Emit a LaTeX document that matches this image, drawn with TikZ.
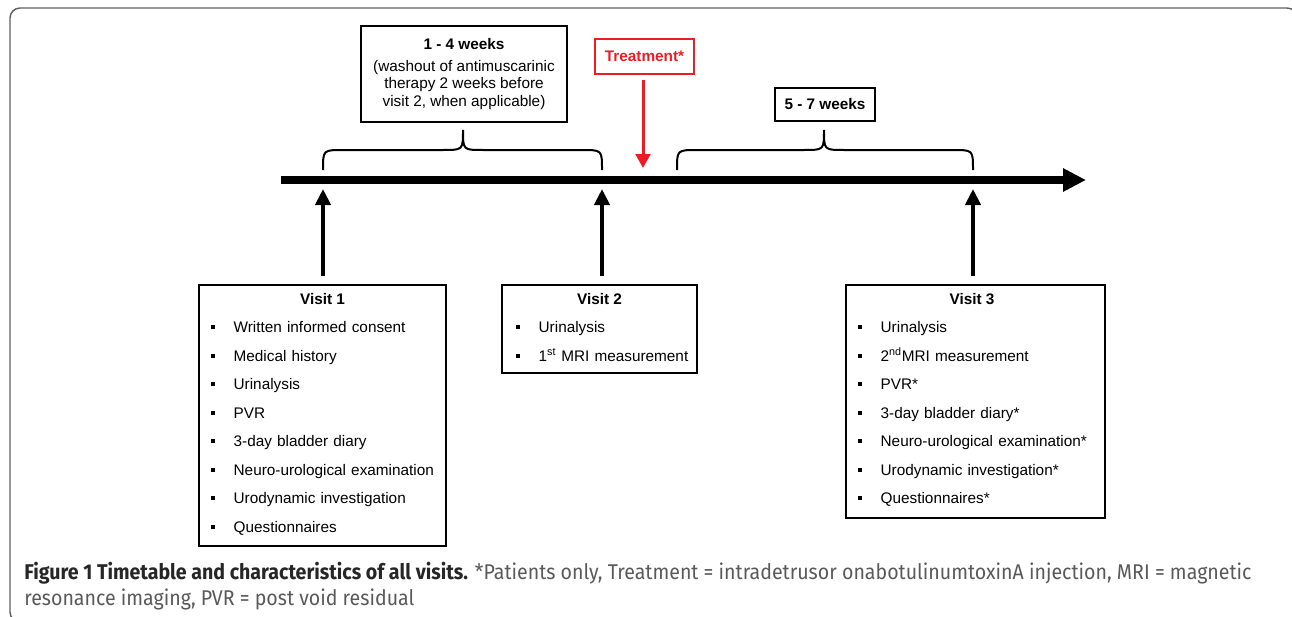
\documentclass[tikz,border=0pt]{standalone}
\usepackage{fontspec}
\setmainfont{Liberation Sans}
\newfontfamily\capfont{Fira Sans}
\usetikzlibrary{arrows.meta,positioning}
\definecolor{treatred}{RGB}{237,28,36}
\definecolor{framegray}{RGB}{95,95,95}
\newcommand{\sqbullet}{\rule[0.22em]{3pt}{3pt}\hspace{14pt}}

\begin{document}
\begin{tikzpicture}[x=0.75pt,y=-0.75pt,node distance=21.4pt,on grid,
  every node/.style={font=\fontsize{11.5}{13.1}\selectfont},
  period/.style={draw,line width=1.5pt,inner sep=0pt,align=center},
  visitbox/.style={draw,line width=1.5pt,inner sep=0pt},
  title/.style={font=\fontsize{11.5}{13.1}\selectfont\bfseries,text height=8.5pt,text depth=2.5pt},
  item/.style={text width=180pt,align=left,inner sep=0pt,text height=8.5pt,text depth=2.5pt},
  visitarrow/.style={line width=3pt,-{Triangle[length=12pt,width=11.25pt]},shorten <=6pt},
  redarrow/.style={treatred,line width=2.25pt,-{Triangle[length=10.5pt,width=11pt]},shorten <=3.75pt},
  brace/.style={line width=1.5pt},
  timeline/.style={line width=5.5pt,-{Triangle[length=17.25pt,width=16.5pt]}},
  caption/.style={anchor=base west,inner sep=0pt,text=black!65,font=\capfont\fontsize{16}{19}\selectfont}]
  \useasboundingbox (0,0) rectangle (1292,617);
  \clip (0,0) rectangle (1292,617);
  \draw[framegray,line width=1.1pt,rounded corners=7.5pt] (10,8) rectangle (1297,622);

  % time axis
  \coordinate (t0) at (281,180);
  \coordinate (t1) at (1086,180);
  \draw[timeline] (t0) -- (t1);

  % periods and treatment
  \node[period,minimum width=154.5pt,minimum height=72pt] (wk1) at (464,74)
    {\textbf{1 - 4 weeks}\\[3.4pt](washout of antimuscarinic\\therapy 2 weeks before\\visit 2, when applicable)};
  \node[period,minimum width=75pt,minimum height=24.75pt] (wk2) at (825,104.5) {\textbf{5 - 7 weeks}};
  \node[period,draw=treatred,text=treatred,minimum width=74.25pt,minimum height=26.25pt] (treat) at (644.5,56.5) {\textbf{Treatment*}};
  \coordinate (tr) at (643,168);
  \draw[redarrow] (treat.south -| tr) -- (tr);

  % braces
  \draw[brace] (323,170) .. controls (323,150) .. (343,150) -- (443,150) .. controls (463,150) .. (463,130)
    .. controls (463,150) .. (483,150) -- (582,150) .. controls (602,150) .. (602,170);
  \draw[brace] (677,170) .. controls (677,150) .. (697,150) -- (804,150) .. controls (824,150) .. (824,130)
    .. controls (824,150) .. (844,150) -- (953,150) .. controls (973,150) .. (973,170);

  % visit 1
  \node[visitbox,minimum width=185.25pt,minimum height=195.75pt] (v1) at (322.5,415.5) {};
  \node[title] (v1t) at (322.5,300) {Visit 1};
  \node[item] (v1a) at (331,328.5) {\sqbullet Written informed consent};
  \node[item] (v1b) [below=of v1a] {\sqbullet Medical history};
  \node[item] (v1c) [below=of v1b] {\sqbullet Urinalysis};
  \node[item] (v1d) [below=of v1c] {\sqbullet PVR};
  \node[item] (v1e) [below=of v1d] {\sqbullet 3-day bladder diary};
  \node[item] (v1f) [below=of v1e] {\sqbullet Neuro-urological examination};
  \node[item] (v1g) [below=of v1f] {\sqbullet Urodynamic investigation};
  \node[item] (v1h) [below=of v1g] {\sqbullet Questionnaires};

  % visit 2
  \node[visitbox,minimum width=146.25pt,minimum height=66pt] (v2) at (599.5,329) {};
  \node[title] (v2t) at (599.5,300) {Visit 2};
  \node[item] (v2a) at (636,328.5) {\sqbullet Urinalysis};
  \node[item] (v2b) [below=of v2a] {\sqbullet 1\textsuperscript{st} MRI measurement};

  % visit 3
  \node[visitbox,minimum width=194.25pt,minimum height=174.75pt] (v3) at (975.5,401.5) {};
  \node[title] (v3t) at (972,300) {Visit 3};
  \node[item] (v3a) at (978,328.5) {\sqbullet Urinalysis};
  \node[item] (v3b) [below=of v3a] {\sqbullet 2\textsuperscript{nd}MRI measurement};
  \node[item] (v3c) [below=of v3b] {\sqbullet PVR*};
  \node[item] (v3d) [below=of v3c] {\sqbullet 3-day bladder diary*};
  \node[item] (v3e) [below=of v3d] {\sqbullet Neuro-urological examination*};
  \node[item] (v3f) [below=of v3e] {\sqbullet Urodynamic investigation*};
  \node[item] (v3g) [below=of v3f] {\sqbullet Questionnaires*};

  % visits to time axis
  \coordinate (a1) at (323,189);
  \coordinate (a2) at (602,189);
  \coordinate (a3) at (973,189);
  \draw[visitarrow] (v1.north -| a1) -- (a1);
  \draw[visitarrow] (v2.north -| a2) -- (a2);
  \draw[visitarrow] (v3.north -| a3) -- (a3);

  % caption
  \node[caption] (cap1) at (24,579)
    {\scalebox{0.918}[1]{\textcolor{black!85}{\bfseries Figure 1 Timetable and characteristics of all visits.} *Patients only, Treatment = intradetrusor onabotulinumtoxinA injection, MRI = magnetic}};
  \node[caption] (cap2) at (24,605)
    {\scalebox{0.918}[1]{resonance imaging, PVR = post void residual}};
\end{tikzpicture}
\end{document}
